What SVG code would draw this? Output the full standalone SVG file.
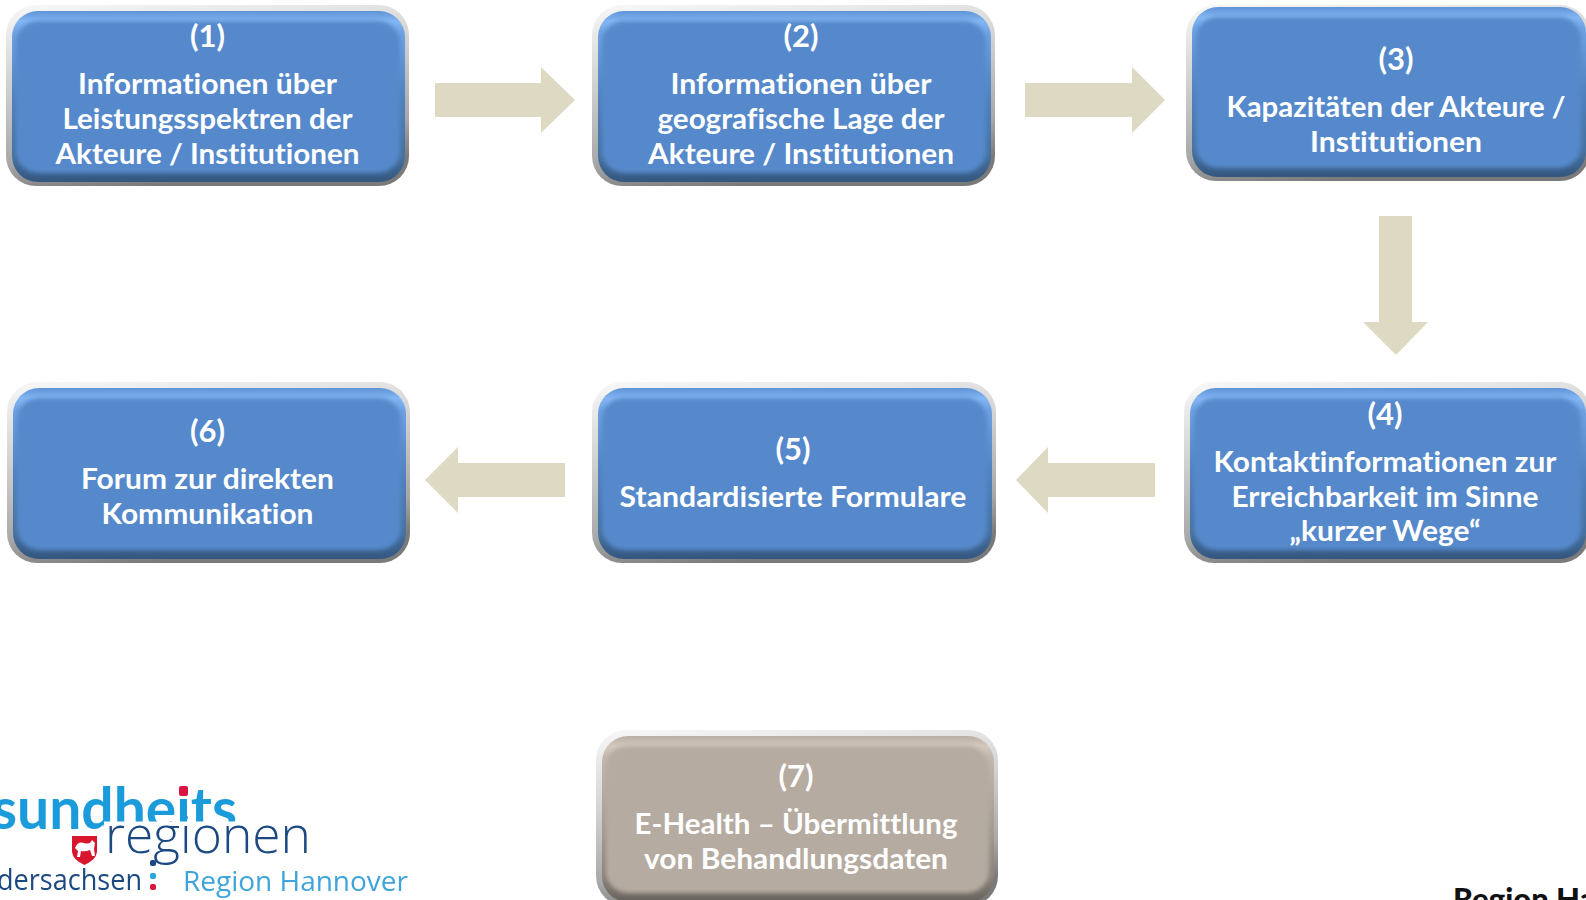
<svg xmlns="http://www.w3.org/2000/svg" width="1586" height="900" viewBox="0 0 1586 900">
<style>
.t{font-family:Lato,"Open Sans","Liberation Sans",sans-serif;font-weight:700;font-size:28px;fill:#fff;text-anchor:middle;font-variant-ligatures:none}
.n{font-size:31px}
.a{fill:#DED9C2}
.f{fill:url(#frame)}
.fg{fill:url(#frameG)}
.b0{fill:url(#blueEdge)}
.b1{fill:#5589CB;filter:url(#soft)}
.g0{fill:url(#grayEdge)}
.g1{fill:#B5ABA1;filter:url(#soft)}
</style>
<defs>
<linearGradient id="frame" x1="0.1" y1="0" x2="0.35" y2="1"><stop offset="0" stop-color="#f6f6f6"/><stop offset="0.4" stop-color="#d0d0d0"/><stop offset="0.8" stop-color="#a8a8a8"/><stop offset="1" stop-color="#7a7a7a"/></linearGradient>
<linearGradient id="frameG" x1="0.1" y1="0" x2="0.35" y2="1"><stop offset="0" stop-color="#f6f6f6"/><stop offset="0.4" stop-color="#d4d4d4"/><stop offset="0.8" stop-color="#a8a8a8"/><stop offset="1" stop-color="#7a7a7a"/></linearGradient>
<linearGradient id="blueEdge" x1="0" y1="0" x2="0" y2="1"><stop offset="0" stop-color="#5E93D6"/><stop offset="0.06" stop-color="#83B6F3"/><stop offset="0.13" stop-color="#6EA2E3"/><stop offset="0.5" stop-color="#5182BF"/><stop offset="0.85" stop-color="#46719F"/><stop offset="1" stop-color="#34567F"/></linearGradient>
<linearGradient id="grayEdge" x1="0" y1="0" x2="0" y2="1"><stop offset="0" stop-color="#B9AFA5"/><stop offset="0.06" stop-color="#D2C8BD"/><stop offset="0.13" stop-color="#C2B8AD"/><stop offset="0.5" stop-color="#A89F96"/><stop offset="0.85" stop-color="#8A827A"/><stop offset="1" stop-color="#68625C"/></linearGradient>
<filter id="soft" x="-5%" y="-10%" width="110%" height="120%"><feGaussianBlur stdDeviation="2.2"/></filter>
<filter id="bl" x="-5%" y="-5%" width="110%" height="110%"><feGaussianBlur stdDeviation="0.45"/></filter>
<clipPath id="cutHeits"><path d="M0,770 H400 V821.500 H104 V835 H0 Z"/></clipPath>
</defs>

<g id="connectors">
<polygon class="a" points="435,83 541,83 541,67 575,100 541,133 541,117 435,117"/>
<polygon class="a" points="1025,83 1132,83 1132,67 1165,100 1132,133 1132,117 1025,117"/>
<polygon class="a" points="1379,216 1412,216 1412,322 1428,322 1396,355 1363,322 1379,322"/>
<polygon class="a" points="1155,463 1048,463 1048,447 1016,480 1048,513 1048,497 1155,497"/>
<polygon class="a" points="565,463 458,463 458,447 425,480 458,513 458,497 565,497"/>
</g>

<g id="node1">
<rect class="f" x="6" y="5" width="403" height="181" rx="30"/>
<rect class="b0" x="12" y="11" width="393" height="171" rx="26"/>
<rect class="b1" x="16" y="21" width="384" height="152" rx="22"/>
<text class="t n" x="207.500" y="47">(1)</text>
<text class="t" x="207.500" y="94" textLength="259" lengthAdjust="spacingAndGlyphs">Informationen über</text>
<text class="t" x="207.500" y="129" textLength="290" lengthAdjust="spacingAndGlyphs">Leistungsspektren der</text>
<text class="t" x="207.500" y="164" textLength="304" lengthAdjust="spacingAndGlyphs">Akteure / Institutionen</text>
</g>
<g id="node2">
<rect class="f" x="592" y="5" width="403" height="181" rx="30"/>
<rect class="b0" x="598" y="11" width="393" height="171" rx="26"/>
<rect class="b1" x="602" y="21" width="384" height="152" rx="22"/>
<text class="t n" x="801" y="47">(2)</text>
<text class="t" x="801" y="94" textLength="261" lengthAdjust="spacingAndGlyphs">Informationen über</text>
<text class="t" x="801" y="129" textLength="287" lengthAdjust="spacingAndGlyphs">geografische Lage der</text>
<text class="t" x="801" y="164" textLength="306" lengthAdjust="spacingAndGlyphs">Akteure / Institutionen</text>
</g>
<g id="node3">
<rect class="f" x="1186" y="5" width="404" height="176" rx="30"/>
<rect class="b0" x="1192" y="7" width="394" height="170" rx="26"/>
<rect class="b1" x="1196" y="17" width="385" height="151" rx="22"/>
<text class="t n" x="1396" y="70">(3)</text>
<text class="t" x="1396" y="117" textLength="339" lengthAdjust="spacingAndGlyphs">Kapazitäten der Akteure /</text>
<text class="t" x="1396" y="152" textLength="172" lengthAdjust="spacingAndGlyphs">Institutionen</text>
</g>
<g id="node4">
<rect class="f" x="1184" y="382" width="406" height="181" rx="30"/>
<rect class="b0" x="1190" y="388" width="396" height="171" rx="26"/>
<rect class="b1" x="1194" y="398" width="387" height="152" rx="22"/>
<text class="t n" x="1385" y="425">(4)</text>
<text class="t" x="1385" y="472" textLength="343" lengthAdjust="spacingAndGlyphs">Kontaktinformationen zur</text>
<text class="t" x="1385" y="507" textLength="307" lengthAdjust="spacingAndGlyphs">Erreichbarkeit im Sinne</text>
<text class="t" x="1385" y="541" textLength="191" lengthAdjust="spacingAndGlyphs">„kurzer Wege“</text>
</g>
<g id="node5">
<rect class="f" x="592" y="382" width="404" height="181" rx="30"/>
<rect class="b0" x="598" y="388" width="394" height="171" rx="26"/>
<rect class="b1" x="602" y="398" width="385" height="152" rx="22"/>
<text class="t n" x="793" y="460">(5)</text>
<text class="t" x="793" y="507" textLength="347" lengthAdjust="spacingAndGlyphs">Standardisierte Formulare</text>
</g>
<g id="node6">
<rect class="f" x="7" y="382" width="403" height="181" rx="30"/>
<rect class="b0" x="13" y="388" width="393" height="171" rx="26"/>
<rect class="b1" x="17" y="398" width="384" height="152" rx="22"/>
<text class="t n" x="207.500" y="442">(6)</text>
<text class="t" x="207.500" y="489" textLength="253" lengthAdjust="spacingAndGlyphs">Forum zur direkten</text>
<text class="t" x="207.500" y="524" textLength="212" lengthAdjust="spacingAndGlyphs">Kommunikation</text>
</g>
<g id="node7">
<rect class="fg" x="596" y="730" width="402" height="176" rx="30"/>
<rect class="g0" x="602" y="736" width="392" height="166" rx="26"/>
<rect class="g1" x="606" y="746" width="383" height="147" rx="22"/>
<text class="t n" x="796" y="787">(7)</text>
<text class="t" x="796" y="834" textLength="323" lengthAdjust="spacingAndGlyphs">E-Health – Übermittlung</text>
<text class="t" x="796" y="869" textLength="304" lengthAdjust="spacingAndGlyphs">von Behandlungsdaten</text>
</g>

<g id="logo" filter="url(#bl)">
<text x="105" y="853" font-family="'Open Sans',Lato,sans-serif" font-weight="300" font-size="52" fill="#1D4A82" textLength="206" lengthAdjust="spacingAndGlyphs">regionen</text>
<text clip-path="url(#cutHeits)" x="-8" y="829" font-family="Lato,'Open Sans',sans-serif" font-weight="700" font-size="57" fill="#1A9BDB" textLength="245" lengthAdjust="spacingAndGlyphs">sundheits</text>
<rect x="179" y="786" width="9" height="10" rx="2" fill="#D8163F"/>
<path d="M72,836 H97 V852 Q96,860 84.500,865 Q73,860 72,852 Z" fill="#D8132F"/>
<path d="M75,848 Q78,841 84,843 Q90,845 92,840 L95,843 L94,849 L95,856 L92,856 L90,850 Q85,852 81,851 L80,857 L77,857 L78,851 Z" fill="#fff"/>
<text x="-3" y="890" font-family="'Open Sans',Lato,sans-serif" font-size="29" fill="#1D4A82" textLength="145" lengthAdjust="spacingAndGlyphs">dersachsen</text>
<rect x="150" y="860" width="6" height="6" rx="2" fill="#1D4A82"/>
<rect x="150" y="873" width="6" height="6" rx="2" fill="#2BA6DE"/>
<rect x="150" y="884" width="6" height="6" rx="2" fill="#D8163F"/>
<text x="183" y="891" font-family="'Open Sans',Lato,sans-serif" font-size="28" fill="#3FA4DC" textLength="225" lengthAdjust="spacingAndGlyphs">Region Hannover</text>
</g>

<text x="1453" y="910" font-family="Lato,'Open Sans',sans-serif" font-weight="900" font-size="31" fill="#111">Region Hannover</text>
</svg>
